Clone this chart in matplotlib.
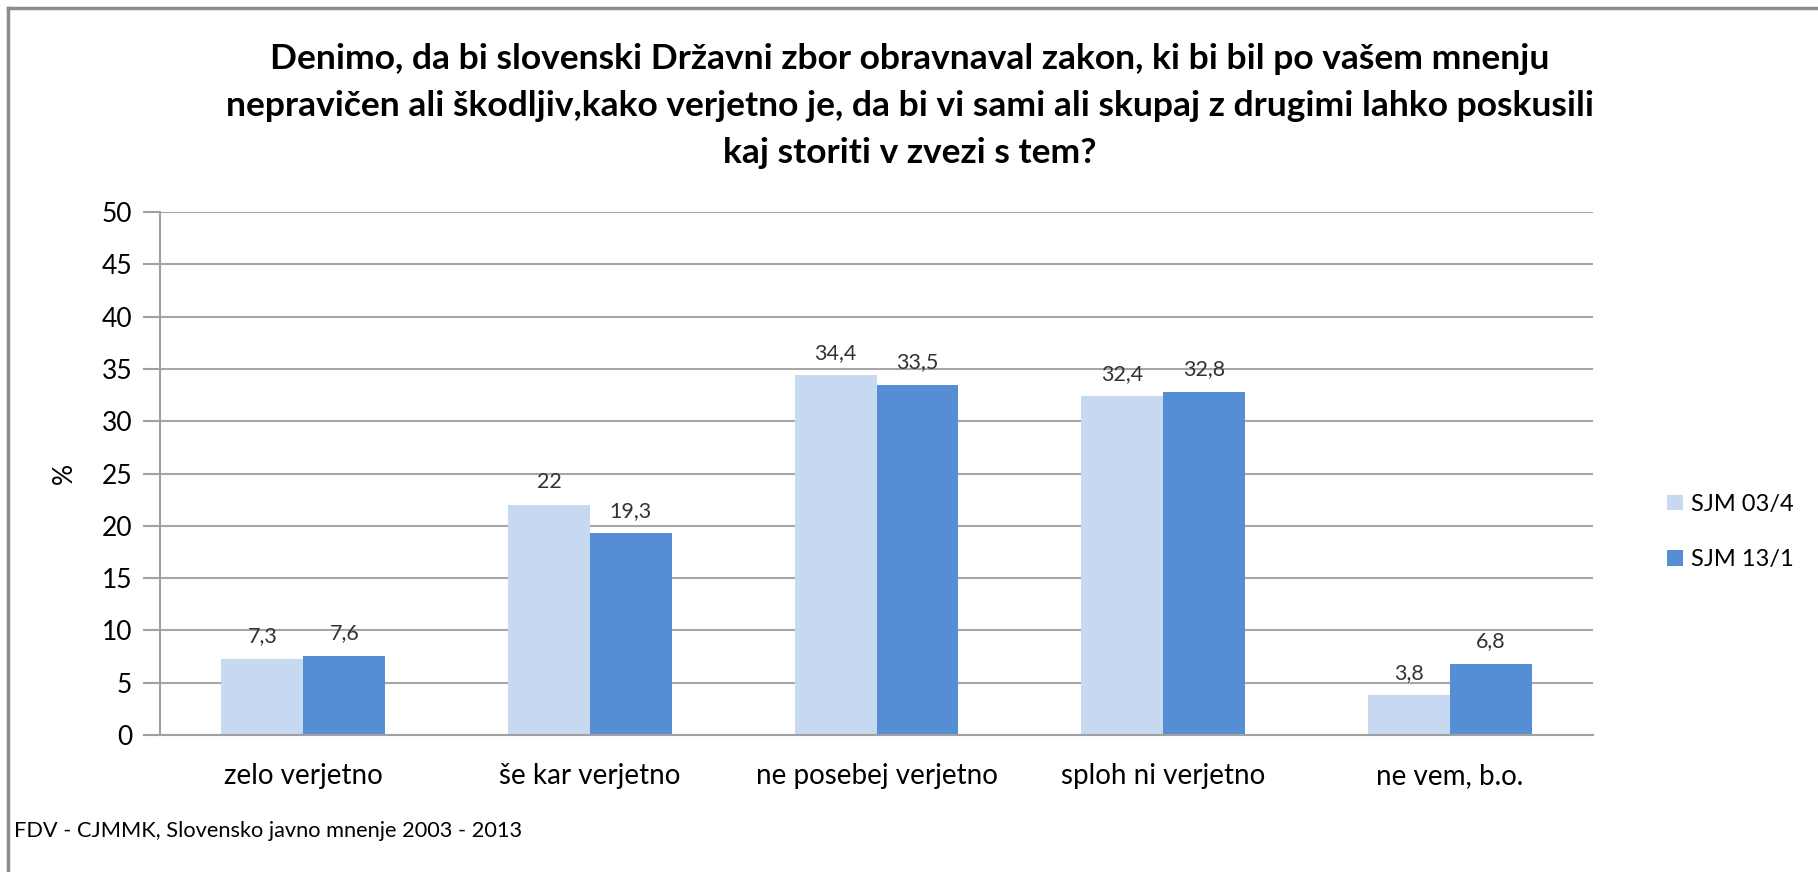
import matplotlib
matplotlib.use("Agg")
import matplotlib.pyplot as plt
import numpy as np

# ---------------------------------------------------------------------------
# data
# ---------------------------------------------------------------------------
categories = ["zelo verjetno", "še kar verjetno", "ne posebej verjetno",
              "sploh ni verjetno", "ne vem, b.o."]
sjm_03 = [7.3, 22, 34.4, 32.4, 3.8]
sjm_13 = [7.6, 19.3, 33.5, 32.8, 6.8]
series_names = ["SJM 03/4", "SJM 13/1"]
yticks = [0, 5, 10, 15, 20, 25, 30, 35, 40, 45, 50]

title = ("Denimo, da bi slovenski Državni zbor obravnaval zakon, ki bi bil po vašem mnenju\n"
         "nepravičen ali škodljiv,kako verjetno je, da bi vi sami ali skupaj z drugimi lahko poskusili\n"
         "kaj storiti v zvezi s tem?")
source = "FDV - CJMMK, Slovensko javno mnenje 2003 - 2013"

plt.rcParams['font.family'] = ['Lato', 'DejaVu Sans']

W, H = 1818, 872
fig = plt.figure(figsize=(W / 100, H / 100), dpi=100)
ax = fig.add_axes([160 / W, 1 - 735 / H, (1593 - 160) / W, (735 - 212) / H])

x = np.arange(len(categories))
bw = 0.286
light, dark = "#C6D9F1", "#558ED5"
b1 = ax.bar(x - bw / 2, sjm_03, bw, color=light, label=series_names[0], zorder=2)
b2 = ax.bar(x + bw / 2, sjm_13, bw, color=dark, label=series_names[1], zorder=2)


def fmt(v):
    s = f"{v:g}"
    return s.replace(".", ",")


for bars, vals in ((b1, sjm_03), (b2, sjm_13)):
    for rect, v in zip(bars, vals):
        ax.annotate(fmt(v), (rect.get_x() + rect.get_width() / 2, v),
                    xytext=(0, 9), textcoords="offset points",
                    ha="center", va="bottom", fontsize=15.5, color="#333333")

ax.set_xlim(-0.5, len(categories) - 0.5)
ax.set_ylim(0, 50)
ax.set_yticks(yticks)
ax.set_yticklabels([str(t) for t in yticks], fontsize=19)
ax.set_xticks(x)
ax.set_xticklabels(categories, fontsize=20)
ax.tick_params(axis="x", length=0, pad=20)
ax.tick_params(axis="y", length=12, width=1.5, color="#A0A0A0", pad=8)
ax.yaxis.grid(True, color="#A6A6A6", lw=1.5, zorder=0)
for side in ("top", "right"):
    ax.spines[side].set_visible(False)
for side in ("left", "bottom"):
    ax.spines[side].set_color("#A0A0A0")
    ax.spines[side].set_linewidth(1.5)

ax.set_ylabel("%", fontsize=19, labelpad=18)

leg = fig.legend(handles=[b1, b2], labels=series_names, loc="center left",
                 bbox_to_anchor=(1646 / W, 1 - 532 / H), frameon=False,
                 fontsize=17, handlelength=0.65, handleheight=0.65,
                 handletextpad=0.35, labelspacing=1.45)

fig.text(910 / W, 1 - 106 / H, title, ha="center", va="center",
         fontsize=25.5, fontweight="bold", linespacing=1.58)
fig.text(14 / W, 1 - 831 / H, source, ha="left", va="center", fontsize=15.7)

# outer chart frame (only the top and left edges fall inside the image)
fig.add_artist(plt.Line2D([8 / W, 1], [1 - 8 / H, 1 - 8 / H], color="#8C8C8C",
                          lw=2.5, transform=fig.transFigure))
fig.add_artist(plt.Line2D([8 / W, 8 / W], [0, 1 - 8 / H], color="#8C8C8C",
                          lw=2.5, transform=fig.transFigure))

fig.savefig("out.png", dpi=100)
